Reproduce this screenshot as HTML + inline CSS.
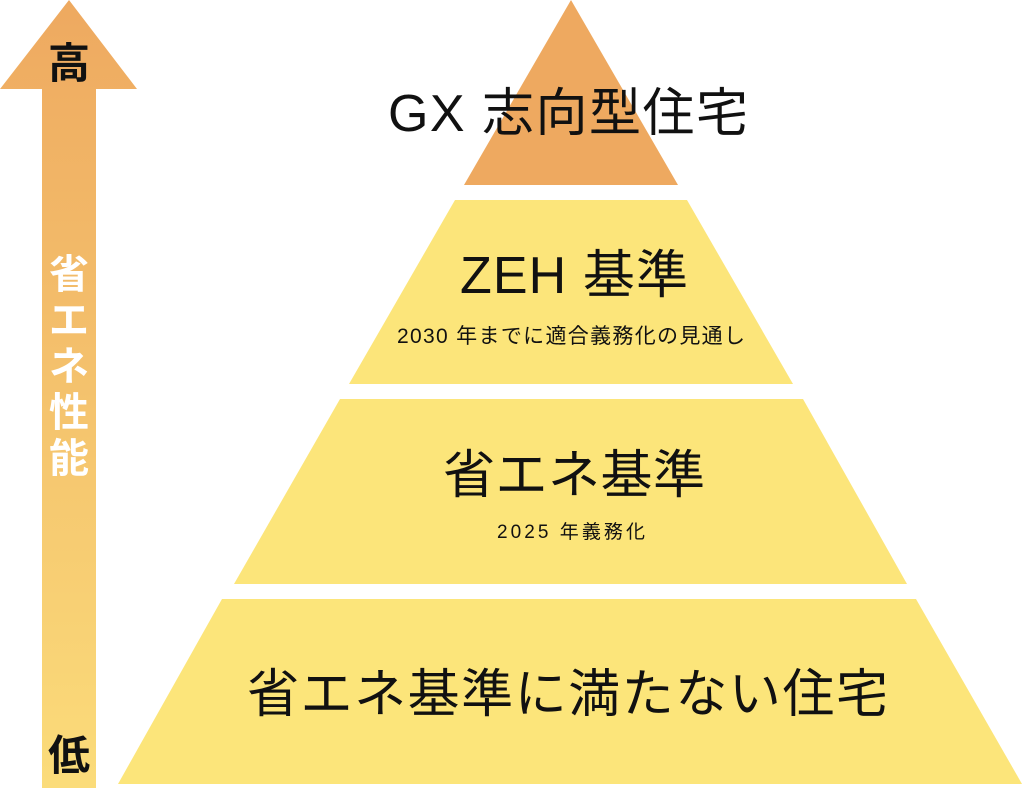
<!DOCTYPE html>
<html><head><meta charset="utf-8"><style>
html,body{margin:0;padding:0;background:#fff;}
svg{display:block}
text{font-family:"Liberation Sans","Noto Sans CJK JP",sans-serif;fill:#111;}
</style></head><body>
<svg width="1024" height="788" viewBox="0 0 1024 788" xmlns="http://www.w3.org/2000/svg">
<defs>
<linearGradient id="ag" x1="0" y1="0" x2="0" y2="1">
<stop offset="0" stop-color="#eea960"/>
<stop offset="1" stop-color="#fbdc7a"/>
</linearGradient>
</defs>
<polygon points="69,0 137,89 96,89 96,788 42,788 42,89 0,89" fill="url(#ag)"/>
<text x="69" y="78" font-size="42" text-anchor="middle" font-weight="bold">高</text>
<text x="69" y="770" font-size="42" text-anchor="middle" font-weight="bold">低</text>
<g font-size="40" text-anchor="middle" font-weight="bold">
<text x="69" y="288" style="fill:#fff">省</text>
<text x="69" y="334" style="fill:#fff">エ</text>
<text x="69" y="380" style="fill:#fff">ネ</text>
<text x="69" y="426" style="fill:#fff">性</text>
<text x="69" y="472" style="fill:#fff">能</text>
</g>
<polygon points="571,0 678,185 464,185" fill="#eea960"/>
<polygon points="455,200 687,200 793,384 349,384" fill="#fce57a"/>
<polygon points="340,399 803,399 907,584 234,584" fill="#fce57a"/>
<polygon points="222,599 916,599 1022,784 118,784" fill="#fce57a"/>
<text x="388" y="131" font-size="52" textLength="360" lengthAdjust="spacing">GX 志向型住宅</text>
<text x="460" y="293" font-size="52" textLength="228" lengthAdjust="spacing">ZEH 基準</text>
<text x="397" y="343" font-size="21" textLength="348" lengthAdjust="spacing">2030 年までに適合義務化の見通し</text>
<text x="443" y="493" font-size="52" textLength="262" lengthAdjust="spacing">省エネ基準</text>
<text x="497" y="538" font-size="19" textLength="148" lengthAdjust="spacing">2025 年義務化</text>
<text x="247" y="712" font-size="52" textLength="641" lengthAdjust="spacing">省エネ基準に満たない住宅</text>
</svg>
</body></html>
